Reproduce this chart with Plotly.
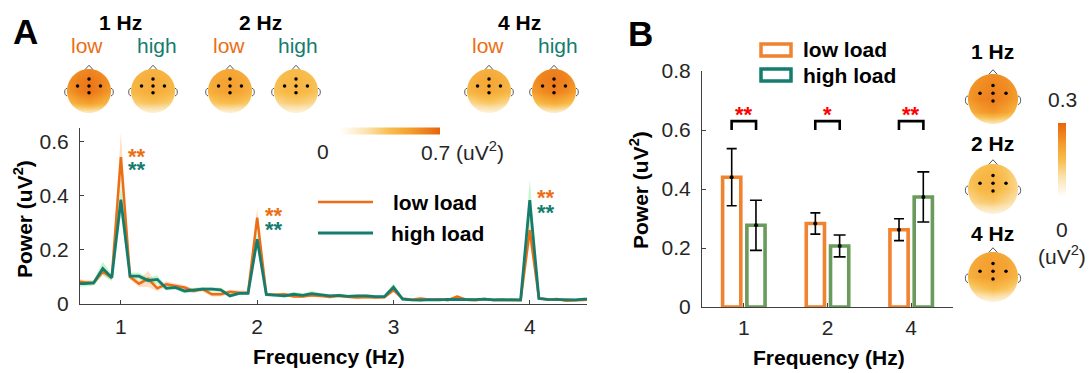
import math
import plotly.graph_objects as go

# ---------------- data: panel A spectra ----------------
freqs = [0.667, 0.733, 0.800, 0.867, 0.933,
         1.000, 1.067, 1.133, 1.200, 1.267, 1.333, 1.400, 1.467, 1.533, 1.600, 1.667, 1.733, 1.800, 1.867, 1.933,
         2.000, 2.067, 2.133, 2.200, 2.267, 2.333, 2.400, 2.467, 2.533, 2.600, 2.667, 2.733, 2.800, 2.867, 2.933,
         3.000, 3.067, 3.133, 3.200, 3.267, 3.333, 3.400, 3.467, 3.533, 3.600, 3.667, 3.733, 3.800, 3.867, 3.933,
         4.000, 4.067, 4.133, 4.200, 4.267, 4.333, 4.400, 4.467]
low_power = [0.085, 0.080, 0.078, 0.120, 0.097,
             0.543, 0.100, 0.075, 0.093, 0.058, 0.073, 0.067, 0.061, 0.048, 0.055, 0.036, 0.036, 0.045, 0.042, 0.042,
             0.319, 0.035, 0.034, 0.036, 0.028, 0.028, 0.032, 0.030, 0.026, 0.030, 0.028, 0.024, 0.026, 0.024, 0.025,
             0.052, 0.020, 0.016, 0.020, 0.016, 0.018, 0.014, 0.027, 0.016, 0.014, 0.018, 0.015, 0.014, 0.014, 0.014,
             0.273, 0.022, 0.016, 0.018, 0.012, 0.014, 0.016, 0.017]
high_power = [0.075, 0.075, 0.078, 0.131, 0.097,
              0.385, 0.103, 0.103, 0.087, 0.091, 0.058, 0.061, 0.048, 0.052, 0.055, 0.055, 0.052, 0.030, 0.039, 0.039,
              0.239, 0.035, 0.033, 0.030, 0.036, 0.032, 0.038, 0.034, 0.030, 0.032, 0.028, 0.030, 0.030, 0.027, 0.027,
              0.062, 0.018, 0.015, 0.014, 0.016, 0.015, 0.017, 0.016, 0.015, 0.016, 0.018, 0.015, 0.016, 0.015, 0.015,
              0.384, 0.020, 0.017, 0.016, 0.015, 0.015, 0.018, 0.019]
low_sem = [0.012, 0.008, 0.008, 0.012, 0.010,
           0.090, 0.010, 0.012, 0.030, 0.010, 0.010, 0.008, 0.008, 0.008, 0.008, 0.008, 0.008, 0.008, 0.008, 0.008,
           0.035, 0.006, 0.006, 0.006, 0.006, 0.006, 0.006, 0.006, 0.006, 0.006, 0.006, 0.006, 0.006, 0.006, 0.006,
           0.010, 0.005, 0.005, 0.005, 0.005, 0.005, 0.005, 0.006, 0.005, 0.005, 0.005, 0.005, 0.005, 0.005, 0.005,
           0.045, 0.005, 0.005, 0.005, 0.005, 0.005, 0.005, 0.005]
high_sem = [0.010, 0.010, 0.010, 0.025, 0.012,
            0.060, 0.012, 0.012, 0.010, 0.015, 0.008, 0.008, 0.008, 0.008, 0.008, 0.008, 0.008, 0.006, 0.006, 0.006,
            0.030, 0.006, 0.006, 0.006, 0.008, 0.008, 0.010, 0.006, 0.006, 0.006, 0.006, 0.006, 0.006, 0.006, 0.006,
            0.014, 0.005, 0.005, 0.005, 0.005, 0.005, 0.005, 0.005, 0.005, 0.005, 0.005, 0.005, 0.005, 0.005, 0.005,
            0.075, 0.005, 0.005, 0.005, 0.005, 0.005, 0.005, 0.005]
spec_ticks = [1, 2, 3, 4]
spec_yticks = [0, 0.2, 0.4, 0.6]
star_freqs = [1, 2, 4]
star_low_y = [0.563, 0.346, 0.412]
star_high_y = [0.515, 0.294, 0.357]

# ---------------- data: panel B bars ----------------
bar_labels = ['1', '2', '4']
bar_pos = [1, 2, 3]
low_means = [0.440, 0.283, 0.262]
low_err = [0.097, 0.036, 0.037]
high_means = [0.277, 0.207, 0.373]
high_err = [0.085, 0.037, 0.085]
bar_sig = ['**', '*', '**']
bar_yticks = [0, 0.2, 0.4, 0.6, 0.8]

# ---------------- data: topographies (rows top->bottom, cols left->right) ----------------
grid_xy = [-1.0, -0.5, 0.0, 0.5, 1.0]
topo_1hz_low = [[0.50, 0.56, 0.58, 0.55, 0.48],
                [0.54, 0.60, 0.63, 0.59, 0.52],
                [0.52, 0.60, 0.64, 0.58, 0.50],
                [0.36, 0.46, 0.50, 0.44, 0.34],
                [0.04, 0.08, 0.10, 0.08, 0.04]]
topo_1hz_high = [[0.36, 0.39, 0.40, 0.38, 0.35],
                 [0.38, 0.41, 0.43, 0.40, 0.37],
                 [0.37, 0.41, 0.43, 0.40, 0.36],
                 [0.26, 0.31, 0.33, 0.30, 0.25],
                 [0.03, 0.05, 0.06, 0.05, 0.03]]
topo_2hz_low = [[0.40, 0.44, 0.45, 0.43, 0.39],
                [0.42, 0.46, 0.48, 0.45, 0.40],
                [0.41, 0.46, 0.48, 0.45, 0.39],
                [0.28, 0.34, 0.36, 0.33, 0.27],
                [0.03, 0.05, 0.06, 0.05, 0.03]]
topo_2hz_high = [[0.32, 0.35, 0.36, 0.34, 0.31],
                 [0.34, 0.37, 0.38, 0.36, 0.33],
                 [0.33, 0.37, 0.38, 0.36, 0.32],
                 [0.22, 0.27, 0.29, 0.26, 0.21],
                 [0.02, 0.04, 0.05, 0.04, 0.02]]
topo_4hz_low = [[0.37, 0.41, 0.42, 0.40, 0.36],
                [0.39, 0.43, 0.45, 0.42, 0.38],
                [0.38, 0.42, 0.44, 0.41, 0.37],
                [0.22, 0.28, 0.31, 0.27, 0.21],
                [0.02, 0.04, 0.05, 0.04, 0.02]]
topo_4hz_high = [[0.52, 0.58, 0.60, 0.57, 0.50],
                 [0.54, 0.60, 0.62, 0.59, 0.52],
                 [0.50, 0.57, 0.60, 0.56, 0.48],
                 [0.32, 0.40, 0.44, 0.38, 0.30],
                 [0.03, 0.06, 0.08, 0.06, 0.03]]
topo_diff_1hz = [[0.21, 0.23, 0.24, 0.23, 0.20],
                 [0.22, 0.24, 0.25, 0.24, 0.21],
                 [0.22, 0.25, 0.26, 0.24, 0.21],
                 [0.17, 0.21, 0.23, 0.20, 0.15],
                 [0.03, 0.05, 0.06, 0.05, 0.02]]
topo_diff_2hz = [[0.13, 0.14, 0.15, 0.13, 0.10],
                 [0.14, 0.16, 0.17, 0.14, 0.10],
                 [0.13, 0.16, 0.17, 0.14, 0.10],
                 [0.09, 0.12, 0.13, 0.10, 0.07],
                 [0.01, 0.02, 0.03, 0.02, 0.01]]
topo_diff_4hz = [[0.17, 0.19, 0.20, 0.19, 0.16],
                 [0.18, 0.20, 0.21, 0.20, 0.17],
                 [0.17, 0.20, 0.21, 0.19, 0.16],
                 [0.10, 0.13, 0.15, 0.13, 0.09],
                 [0.01, 0.02, 0.03, 0.02, 0.01]]
elec_x = [0.0, -0.52, 0.0, 0.52, 0.0]
elec_y = [0.54, 0.23, 0.23, 0.23, -0.08]
cbar_a_max = 0.7
cbar_b_max = 0.3

# ---------------- style ----------------
W, H = 1091, 373
FONT = 'Liberation Sans, Arial, sans-serif'
ORANGE = '#EC6E14'
TEAL = '#167C6E'
BAR_ORANGE = '#F0832F'
BAR_GREEN = '#6A9A5C'
AXC = '#404040'
TXT = '#262626'
TOPO_SCALE = [[0, '#FFFFFF'], [0.27, '#FBE2AE'], [0.5, '#F8BD4C'], [0.73, '#F39A2A'], [1, '#E8630F']]


def px(x):
    return x / W


def py(y):
    return 1 - y / H


fig = go.Figure()

# ---- panel A: shaded SEM bands and lines ----
for mean, sem, fillc in [(low_power, low_sem, 'rgba(249,196,150,0.55)'),
                         (high_power, high_sem, 'rgba(130,232,140,0.45)')]:
    fig.add_trace(go.Scatter(x=freqs, y=[m + s for m, s in zip(mean, sem)], mode='lines',
                             line=dict(width=0), hoverinfo='skip', showlegend=False,
                             xaxis='x', yaxis='y'))
    fig.add_trace(go.Scatter(x=freqs, y=[m - s for m, s in zip(mean, sem)], mode='lines',
                             line=dict(width=0), fill='tonexty', fillcolor=fillc,
                             hoverinfo='skip', showlegend=False, xaxis='x', yaxis='y'))
fig.add_trace(go.Scatter(x=freqs, y=low_power, mode='lines', line=dict(color=ORANGE, width=2.5),
                         name='low load', showlegend=False, xaxis='x', yaxis='y'))
fig.add_trace(go.Scatter(x=freqs, y=high_power, mode='lines', line=dict(color=TEAL, width=2.8),
                         name='high load', showlegend=False, xaxis='x', yaxis='y'))

# ---- panel B: bars ----
fig.add_trace(go.Bar(x=bar_pos, y=low_means, name='low load', showlegend=False,
                     marker=dict(color='rgba(255,255,255,0)', line=dict(color=BAR_ORANGE, width=3.6)),
                     error_y=dict(type='data', array=low_err, color='black', thickness=1.6, width=5),
                     xaxis='x2', yaxis='y2'))
fig.add_trace(go.Bar(x=bar_pos, y=high_means, name='high load', showlegend=False,
                     marker=dict(color='rgba(255,255,255,0)', line=dict(color=BAR_GREEN, width=3.6)),
                     error_y=dict(type='data', array=high_err, color='black', thickness=1.6, width=6),
                     xaxis='x2', yaxis='y2'))
OFF = 0.146
fig.add_trace(go.Scatter(x=[p - OFF for p in bar_pos] + [p + OFF for p in bar_pos],
                         y=low_means + high_means, mode='markers',
                         marker=dict(color='black', size=4), showlegend=False, hoverinfo='skip',
                         xaxis='x2', yaxis='y2'))
br_x, br_y = [], []
for p in bar_pos:
    br_x += [p - OFF, p - OFF, p + OFF, p + OFF, None]
    br_y += [0.60, 0.63, 0.63, 0.60, None]
fig.add_trace(go.Scatter(x=br_x, y=br_y, mode='lines', line=dict(color='black', width=2.6),
                         showlegend=False, hoverinfo='skip', xaxis='x2', yaxis='y2'))

# ---- topographic heads ----
heads = [
    (89, 91, 22, topo_1hz_low, 'coloraxis'),
    (153, 91, 22, topo_1hz_high, 'coloraxis'),
    (230, 91, 22, topo_2hz_low, 'coloraxis'),
    (296, 91, 22, topo_2hz_high, 'coloraxis'),
    (489, 91, 22, topo_4hz_low, 'coloraxis'),
    (554, 91, 22, topo_4hz_high, 'coloraxis'),
    (993, 99, 25, topo_diff_1hz, 'coloraxis2'),
    (993, 189, 25, topo_diff_2hz, 'coloraxis2'),
    (993, 277, 25, topo_diff_4hz, 'coloraxis2'),
]
R = 1.3
circle = [(math.cos(2 * math.pi * k / 72), math.sin(2 * math.pi * k / 72)) for k in range(72)]
mask_path = 'M -1.4,-1.4 L 1.4,-1.4 L 1.4,1.4 L -1.4,1.4 Z M ' + ' L '.join(
    f'{cx:.4f},{cy:.4f}' for cx, cy in circle) + ' Z'
shapes = []
layout_axes = {}
for i, (hx, hy, hr, z, cax) in enumerate(heads):
    n = i + 3
    xa, ya = f'x{n}', f'y{n}'
    half = hr * R
    layout_axes[f'xaxis{n}'] = dict(domain=[px(hx - half), px(hx + half)], range=[-R, R], visible=False,
                                    anchor=ya, fixedrange=True)
    layout_axes[f'yaxis{n}'] = dict(domain=[py(hy + half), py(hy - half)], range=[-R, R], visible=False,
                                    anchor=xa, fixedrange=True)
    # rows are listed top->bottom, so flip them to match increasing y
    fig.add_trace(go.Heatmap(x=grid_xy, y=grid_xy, z=z[::-1], zsmooth='best', coloraxis=cax,
                             hoverinfo='skip', xaxis=xa, yaxis=ya))
    fig.add_trace(go.Scatter(x=elec_x, y=elec_y, mode='markers', marker=dict(color='black', size=3.5),
                             hoverinfo='skip', showlegend=False, xaxis=xa, yaxis=ya))
    shapes.append(dict(type='path', path=mask_path, xref=xa, yref=ya, fillcolor='white',
                       fillrule='evenodd', line=dict(width=0), layer='above'))
    shapes.append(dict(type='path', path='M -0.17,0.985 L 0,1.17 L 0.17,0.985', xref=xa, yref=ya,
                       line=dict(color='#555555', width=1), layer='above'))
    shapes.append(dict(type='path', path='M -1.0,0.12 C -1.14,0.12 -1.14,-0.22 -1.0,-0.22', xref=xa, yref=ya,
                       line=dict(color='#555555', width=1), layer='above'))
    shapes.append(dict(type='path', path='M 1.0,0.12 C 1.14,0.12 1.14,-0.22 1.0,-0.22', xref=xa, yref=ya,
                       line=dict(color='#555555', width=1), layer='above'))

# ---- manual legends ----
shapes.append(dict(type='line', xref='paper', yref='paper', x0=px(318), x1=px(373), y0=py(202), y1=py(202),
                   line=dict(color=ORANGE, width=2.5)))
shapes.append(dict(type='line', xref='paper', yref='paper', x0=px(318), x1=px(373), y0=py(233), y1=py(233),
                   line=dict(color=TEAL, width=3)))
shapes.append(dict(type='rect', xref='paper', yref='paper', x0=px(761), x1=px(791), y0=py(56), y1=py(44),
                   line=dict(color=BAR_ORANGE, width=3.5)))
shapes.append(dict(type='rect', xref='paper', yref='paper', x0=px(761), x1=px(791), y0=py(81), y1=py(69),
                   line=dict(color=TEAL, width=3.5)))


def ann(text, x, y, size=21, color=TXT, bold=False, xanchor='center', angle=0):
    return dict(text=f'<b>{text}</b>' if bold else text, x=px(x), y=py(y), xref='paper', yref='paper',
                showarrow=False, xanchor=xanchor, yanchor='middle', textangle=angle,
                font=dict(size=size, color=color, family=FONT))


annotations = [
    ann('A', 25, 31, size=35, color='black', bold=True),
    ann('B', 640, 33, size=35, color='black', bold=True),
    ann('1 Hz', 120, 22, color='black', bold=True),
    ann('2 Hz', 260, 22, color='black', bold=True),
    ann('4 Hz', 519, 22, color='black', bold=True),
    ann('low', 87, 46, color=ORANGE), ann('high', 157, 46, color=TEAL),
    ann('low', 229, 46, color=ORANGE), ann('high', 298, 46, color=TEAL),
    ann('low', 488, 46, color=ORANGE), ann('high', 558, 46, color=TEAL),
    ann('0', 323, 151), ann('0.7 (uV<sup>2</sup>)', 462, 151),
    ann('low load', 391, 202, color='black', bold=True, xanchor='left'),
    ann('high load', 389, 233, color='black', bold=True, xanchor='left'),
    ann('Frequency (Hz)', 329, 356, color='black', bold=True),
    ann('Power (uV<sup>2</sup>)', 23, 219, color='black', bold=True, angle=-90),
    ann('low load', 801, 50, color='black', bold=True, xanchor='left'),
    ann('high load', 801, 75, color='black', bold=True, xanchor='left'),
    ann('Frequency (Hz)', 829, 357, color='black', bold=True),
    ann('Power (uV<sup>2</sup>)', 639, 190, color='black', bold=True, angle=-90),
    ann('1 Hz', 993, 52, color='black', bold=True),
    ann('2 Hz', 993, 143, color='black', bold=True),
    ann('4 Hz', 993, 233, color='black', bold=True),
    ann('0.3', 1062, 100), ann('0', 1062, 229), ann('(uV<sup>2</sup>)', 1062, 255),
]
for f, yl, yh in zip(star_freqs, star_low_y, star_high_y):
    for yy, col in [(yl, ORANGE), (yh, TEAL)]:
        annotations.append(dict(text='<b>**</b>', x=f + 0.12, y=yy, xref='x', yref='y', showarrow=False,
                                xanchor='center', yanchor='middle', yshift=-5,
                                font=dict(size=22, color=col, family=FONT)))
for p, s in zip(bar_pos, bar_sig):
    annotations.append(dict(text=f'<b>{s}</b>', x=p, y=0.668, xref='x2', yref='y2', showarrow=False,
                            xanchor='center', yanchor='middle', yshift=-5,
                            font=dict(size=22, color='#FF0000', family=FONT)))

axis_common = dict(showline=True, linecolor=AXC, linewidth=1.2, ticks='inside', ticklen=4, tickcolor=AXC,
                   showgrid=False, zeroline=False, tickfont=dict(size=21, color=TXT, family=FONT),
                   fixedrange=True)

fig.update_layout(
    width=W, height=H, margin=dict(l=0, r=0, t=0, b=0, pad=0, autoexpand=False),
    paper_bgcolor='white', plot_bgcolor='white', showlegend=False,
    font=dict(family=FONT, color=TXT),
    barmode='group', bargap=0.42, bargroupgap=0.25,
    xaxis=dict(domain=[px(80), px(587)], range=[0.7, 4.42], anchor='y', tickvals=spec_ticks,
               ticklabelstandoff=4, **axis_common),
    yaxis=dict(domain=[py(304), py(128)], range=[0, 0.65], anchor='x', tickvals=spec_yticks,
               ticktext=[f'{v:g}' for v in spec_yticks], ticklabelstandoff=6, **axis_common),
    xaxis2=dict(domain=[px(702), px(953)], range=[0.5, 3.5], anchor='y2', tickvals=bar_pos,
                ticktext=bar_labels, ticklabelstandoff=2, **axis_common),
    yaxis2=dict(domain=[py(307), py(71)], range=[0, 0.8], anchor='x2', tickvals=bar_yticks,
                ticktext=[f'{v:g}' for v in bar_yticks], ticklabelstandoff=6, **axis_common),
    coloraxis=dict(colorscale=TOPO_SCALE, cmin=0, cmax=cbar_a_max,
                   colorbar=dict(orientation='h', x=px(390), xanchor='center', y=py(130.5), yanchor='middle',
                                 len=100, lenmode='pixels', thickness=7, showticklabels=False, ticks='',
                                 outlinewidth=0, xpad=0, ypad=0)),
    coloraxis2=dict(colorscale=TOPO_SCALE, cmin=0, cmax=cbar_b_max,
                    colorbar=dict(orientation='v', x=px(1062), xanchor='center', y=py(160), yanchor='middle',
                                  len=74, lenmode='pixels', thickness=8, showticklabels=False, ticks='',
                                  outlinewidth=0, xpad=0, ypad=0)),
    shapes=shapes, annotations=annotations,
    **layout_axes,
)

fig.write_html('out.html', config={'displayModeBar': False},
               post_script="document.body.style.margin='0';document.body.style.overflow='hidden';")
